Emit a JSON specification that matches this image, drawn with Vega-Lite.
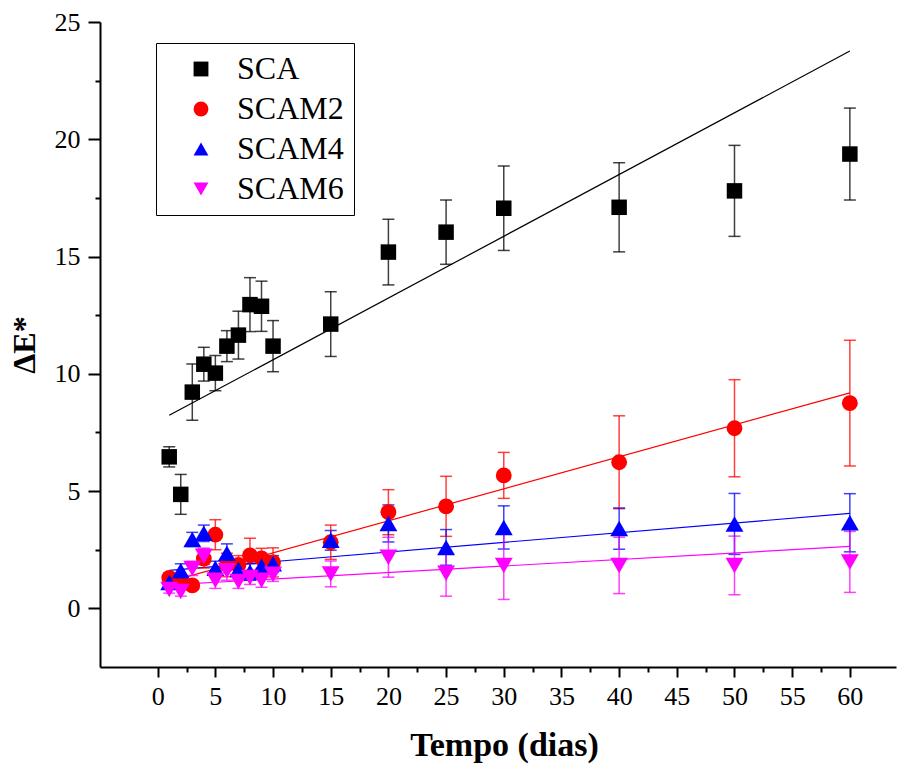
{
  "$schema": "https://vega.github.io/schema/vega-lite/v6.json",
  "width": 796,
  "height": 645,
  "autosize": {"type": "none"},
  "padding": {"left": 100, "top": 22, "right": 3, "bottom": 109},
  "background": "white",
  "config": {"view": {"stroke": null}, "font": "Liberation Serif"},
  "datasets": {
    "pts": [
      {"s":"SCA","t":1,"v":6.46,"lo":6.03,"hi":6.89},
      {"s":"SCA","t":2,"v":4.86,"lo":4.01,"hi":5.71},
      {"s":"SCA","t":3,"v":9.22,"lo":8.02,"hi":10.42},
      {"s":"SCA","t":4,"v":10.41,"lo":9.69,"hi":11.13},
      {"s":"SCA","t":5,"v":10.03,"lo":9.28,"hi":10.78},
      {"s":"SCA","t":6,"v":11.18,"lo":10.52,"hi":11.84},
      {"s":"SCA","t":7,"v":11.65,"lo":10.63,"hi":12.67},
      {"s":"SCA","t":8,"v":12.95,"lo":11.8,"hi":14.1},
      {"s":"SCA","t":9,"v":12.88,"lo":11.81,"hi":13.95},
      {"s":"SCA","t":10,"v":11.18,"lo":10.09,"hi":12.27},
      {"s":"SCA","t":15,"v":12.12,"lo":10.74,"hi":13.5},
      {"s":"SCA","t":20,"v":15.19,"lo":13.79,"hi":16.59},
      {"s":"SCA","t":25,"v":16.04,"lo":14.67,"hi":17.41},
      {"s":"SCA","t":30,"v":17.06,"lo":15.26,"hi":18.86},
      {"s":"SCA","t":40,"v":17.1,"lo":15.2,"hi":19.0},
      {"s":"SCA","t":50,"v":17.8,"lo":15.86,"hi":19.74},
      {"s":"SCA","t":60,"v":19.37,"lo":17.41,"hi":21.33},
      {"s":"SCAM2","t":1,"v":1.3,"lo":1.1,"hi":1.5},
      {"s":"SCAM2","t":2,"v":1.15,"lo":0.9,"hi":1.4},
      {"s":"SCAM2","t":3,"v":0.98,"lo":0.78,"hi":1.18},
      {"s":"SCAM2","t":4,"v":2.12,"lo":1.72,"hi":2.52},
      {"s":"SCAM2","t":5,"v":3.14,"lo":2.5,"hi":3.78},
      {"s":"SCAM2","t":6,"v":1.85,"lo":1.35,"hi":2.35},
      {"s":"SCAM2","t":7,"v":1.85,"lo":1.45,"hi":2.25},
      {"s":"SCAM2","t":8,"v":2.26,"lo":1.53,"hi":2.99},
      {"s":"SCAM2","t":9,"v":2.13,"lo":1.7,"hi":2.56},
      {"s":"SCAM2","t":10,"v":1.96,"lo":1.34,"hi":2.58},
      {"s":"SCAM2","t":15,"v":2.82,"lo":2.09,"hi":3.55},
      {"s":"SCAM2","t":20,"v":4.1,"lo":3.14,"hi":5.06},
      {"s":"SCAM2","t":25,"v":4.35,"lo":3.07,"hi":5.63},
      {"s":"SCAM2","t":30,"v":5.67,"lo":4.69,"hi":6.65},
      {"s":"SCAM2","t":40,"v":6.23,"lo":4.25,"hi":8.21},
      {"s":"SCAM2","t":50,"v":7.68,"lo":5.61,"hi":9.75},
      {"s":"SCAM2","t":60,"v":8.75,"lo":6.07,"hi":11.43},
      {"s":"SCAM4","t":1,"v":1.1,"lo":0.9,"hi":1.3},
      {"s":"SCAM4","t":2,"v":1.6,"lo":1.3,"hi":1.9},
      {"s":"SCAM4","t":3,"v":2.94,"lo":2.64,"hi":3.24},
      {"s":"SCAM4","t":4,"v":3.2,"lo":2.85,"hi":3.55},
      {"s":"SCAM4","t":5,"v":1.71,"lo":1.41,"hi":2.01},
      {"s":"SCAM4","t":6,"v":2.35,"lo":1.95,"hi":2.75},
      {"s":"SCAM4","t":7,"v":1.66,"lo":1.31,"hi":2.01},
      {"s":"SCAM4","t":8,"v":1.55,"lo":1.2,"hi":1.9},
      {"s":"SCAM4","t":9,"v":1.8,"lo":1.5,"hi":2.1},
      {"s":"SCAM4","t":10,"v":1.9,"lo":1.55,"hi":2.25},
      {"s":"SCAM4","t":15,"v":2.9,"lo":2.48,"hi":3.32},
      {"s":"SCAM4","t":20,"v":3.62,"lo":2.83,"hi":4.41},
      {"s":"SCAM4","t":25,"v":2.6,"lo":1.84,"hi":3.36},
      {"s":"SCAM4","t":30,"v":3.45,"lo":2.53,"hi":4.37},
      {"s":"SCAM4","t":40,"v":3.4,"lo":2.52,"hi":4.28},
      {"s":"SCAM4","t":50,"v":3.6,"lo":2.3,"hi":4.9},
      {"s":"SCAM4","t":60,"v":3.65,"lo":2.41,"hi":4.89},
      {"s":"SCAM6","t":1,"v":0.8,"lo":0.65,"hi":0.95},
      {"s":"SCAM6","t":2,"v":0.72,"lo":0.52,"hi":0.92},
      {"s":"SCAM6","t":3,"v":1.7,"lo":1.4,"hi":2.0},
      {"s":"SCAM6","t":4,"v":2.22,"lo":1.87,"hi":2.57},
      {"s":"SCAM6","t":5,"v":1.2,"lo":0.85,"hi":1.55},
      {"s":"SCAM6","t":6,"v":1.6,"lo":1.2,"hi":2.0},
      {"s":"SCAM6","t":7,"v":1.15,"lo":0.85,"hi":1.45},
      {"s":"SCAM6","t":8,"v":1.32,"lo":1.02,"hi":1.62},
      {"s":"SCAM6","t":9,"v":1.2,"lo":0.9,"hi":1.5},
      {"s":"SCAM6","t":10,"v":1.45,"lo":1.15,"hi":1.75},
      {"s":"SCAM6","t":15,"v":1.47,"lo":0.92,"hi":2.02},
      {"s":"SCAM6","t":20,"v":2.18,"lo":1.33,"hi":3.03},
      {"s":"SCAM6","t":25,"v":1.5,"lo":0.52,"hi":2.48},
      {"s":"SCAM6","t":30,"v":1.83,"lo":0.38,"hi":3.28},
      {"s":"SCAM6","t":40,"v":1.83,"lo":0.63,"hi":3.03},
      {"s":"SCAM6","t":50,"v":1.83,"lo":0.58,"hi":3.08},
      {"s":"SCAM6","t":60,"v":1.98,"lo":0.68,"hi":3.28}
    ],
    "fits": [
      {"s":"SCA","t":1,"v":8.23},
      {"s":"SCA","t":60,"v":23.76},
      {"s":"SCAM2","t":1,"v":1.14},
      {"s":"SCAM2","t":60,"v":9.19},
      {"s":"SCAM4","t":1,"v":1.62},
      {"s":"SCAM4","t":60,"v":4.05},
      {"s":"SCAM6","t":1,"v":1.0},
      {"s":"SCAM6","t":60,"v":2.64}
    ]
  },
  "encoding": {
    "x": {
      "field": "t", "type": "quantitative",
      "scale": {"domain": [-5, 64], "nice": false, "zero": false},
      "axis": {
        "title": "Tempo (dias)",
        "values": [0,2.5,5,7.5,10,12.5,15,17.5,20,22.5,25,27.5,30,32.5,35,37.5,40,42.5,45,47.5,50,52.5,55,57.5,60],
        "labelExpr": "datum.value % 5 === 0 ? datum.label : ''",
        "tickSize": {"condition": {"test": "datum.value % 5 === 0", "value": 10}, "value": 5},
        "grid": false,
        "domainColor": "black", "domainWidth": 2,
        "tickColor": "black", "tickWidth": 2,
        "labelFont": "Liberation Serif", "labelFontSize": 26, "labelColor": "black",
        "labelPadding": 6, "labelFlush": false, "labelOverlap": false,
        "titleFont": "Liberation Serif", "titleFontSize": 34, "titleFontWeight": "bold",
        "titleColor": "black", "titlePadding": 19, "titleX": 404
      }
    },
    "y": {
      "field": "v", "type": "quantitative",
      "scale": {"domain": [-2.5, 25], "nice": false, "zero": false},
      "axis": {
        "title": "ΔE*",
        "values": [0,2.5,5,7.5,10,12.5,15,17.5,20,22.5,25],
        "labelExpr": "datum.value % 5 === 0 ? datum.label : ''",
        "tickSize": {"condition": {"test": "datum.value % 5 === 0", "value": 12}, "value": 5},
        "grid": false,
        "domainColor": "black", "domainWidth": 2,
        "tickColor": "black", "tickWidth": 2,
        "labelFont": "Liberation Serif", "labelFontSize": 26, "labelColor": "black",
        "labelPadding": 8, "labelFlush": false, "labelOverlap": false,
        "titleFont": "Liberation Serif", "titleFontSize": 32, "titleFontWeight": "bold",
        "titleColor": "black", "titlePadding": 13
      }
    }
  },
  "resolve": {"scale": {"color": "independent"}, "legend": {"color": "independent"}},
  "layer": [
    {
      "data": {"name": "fits"},
      "mark": {"type": "line", "strokeWidth": 1.2},
      "encoding": {
        "detail": {"field": "s"},
        "color": {"field": "s", "type": "nominal", "legend": null,
          "scale": {"domain": ["SCA","SCAM2","SCAM4","SCAM6"], "range": ["#000000","#ff0000","#0000ff","#ff00ff"]}}
      }
    },
    {
      "data": {"name": "pts"},
      "mark": {"type": "errorbar", "ticks": {"size": 12, "thickness": 1.5}, "thickness": 1.5, "opacity": 0.75},
      "encoding": {
        "y": {"field": "lo", "type": "quantitative"},
        "y2": {"field": "hi"},
        "color": {"field": "s", "type": "nominal", "legend": null,
          "scale": {"domain": ["SCA","SCAM2","SCAM4","SCAM6"], "range": ["#000000","#ff0000","#0000ff","#ff00ff"]}}
      }
    },
    {
      "data": {"name": "pts"},
      "mark": {"type": "point", "filled": true, "opacity": 1},
      "encoding": {
        "shape": {
          "field": "s", "type": "nominal", "legend": null,
          "scale": {"domain": ["SCA","SCAM2","SCAM4","SCAM6"], "range": ["square","circle","triangle-up","triangle-down"]}
        },
        "size": {
          "field": "s", "type": "nominal", "legend": null,
          "scale": {"type": "ordinal", "domain": ["SCA","SCAM2","SCAM4","SCAM6"], "range": [240, 250, 320, 320]}
        },
        "color": {
          "field": "s", "type": "nominal",
          "scale": {"domain": ["SCA","SCAM2","SCAM4","SCAM6"], "range": ["#000000","#ff0000","#0000ff","#ff00ff"]},
          "legend": {
            "title": null,
            "orient": "none", "legendX": 56, "legendY": 21,
            "strokeColor": "black", "fillColor": "white", "padding": 10,
            "labelFont": "Liberation Serif", "labelFontSize": 32, "labelColor": "black",
            "symbolSize": 220,
            "symbolStrokeWidth": 0, "symbolOpacity": 1,
            "rowPadding": 8, "symbolOffset": 19, "labelOffset": 20,
            "encode": {"symbols": {"update": {"shape": {"scale": "shape", "field": "value"}}}}
          }
        }
      }
    }
  ]
}
